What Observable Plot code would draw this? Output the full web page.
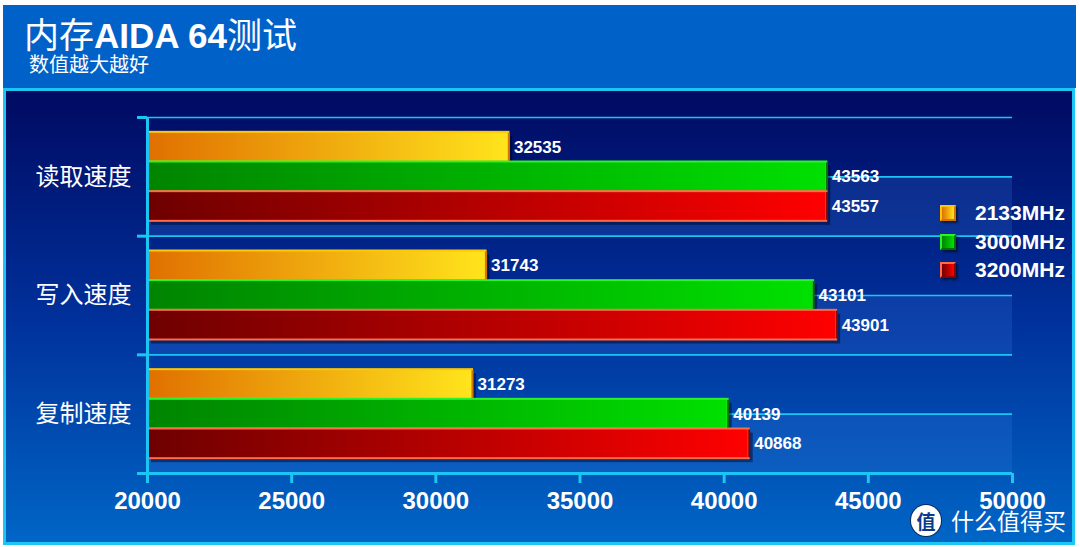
<!DOCTYPE html>
<html>
<head>
<meta charset="utf-8">
<script src="https://cdn.jsdelivr.net/npm/d3@7"></script>
<script src="https://cdn.jsdelivr.net/npm/@observablehq/plot@0.6"></script>
<style>
  html, body { margin: 0; padding: 0; background: #fff; }
  #wrap { position: relative; width: 1080px; height: 547px; background: #fff; overflow: hidden; }
  #banner { position: absolute; left: 3px; top: 5px; width: 1073px; height: 83px; background: #0062c8; }
  #title { position: absolute; left: 24px; top: 18px; color: #fff; font-size: 35px; line-height: 30px; white-space: nowrap; font-family: "Noto Sans CJK SC", sans-serif; }
  #title b { font-family: "Liberation Sans", Arial, sans-serif; font-weight: bold; }
  #subtitle { position: absolute; left: 29px; top: 54px; color: #fff; font-size: 20px; line-height: 20px; font-family: "Noto Sans CJK SC", sans-serif; }
  #panel { position: absolute; left: 3px; top: 88px; width: 1066px; height: 451px; border: 3px solid #1cc6f4; background: linear-gradient(to bottom, #000a62, #00309a 50%, #0066c6); }
  #chart { position: absolute; left: 0; top: 88px; }
  #chart svg text { fill: #fff; }
  #chart svg [aria-label^="x-axis"] line, #chart svg [aria-label^="x-axis"] path,
  #chart svg [aria-label^="y-axis"] line, #chart svg [aria-label^="y-axis"] path { stroke: #1cc6f4; stroke-width: 3px; }
  .leg { position: absolute; left: 940px; height: 24px; display: flex; align-items: center; color: #fff; font: bold 21px "Liberation Sans", Arial, sans-serif; }
  .sw { width: 12px; height: 12px; border: 2px solid; margin-right: 19px; box-shadow: 2px 2px 2px rgba(0,0,0,0.5); }
  #wm { position: absolute; left: 911px; top: 503px; height: 34px; display: flex; align-items: center; color: #fff; font-size: 23px; font-family: "Noto Sans CJK SC", sans-serif; }
  #wm .c { width: 30px; height: 31px; border-radius: 50%; background: #fff; color: #0a3a8a; font-size: 19px; display: flex; align-items: center; justify-content: center; margin-right: 10px; font-weight: bold; box-shadow: 0 0 0 1px #0a2a60; }
</style>
</head>
<body>
<div id="wrap">
  <div id="banner"></div>
  <div id="title">内存<b>AIDA 64</b>测试</div>
  <div id="subtitle">数值越大越好</div>
  <div id="panel"></div>
  <div id="chart"></div>
  <div id="legend"></div>
  <div id="wm"><span class="c">值</span>什么值得买</div>
</div>
<script>
// ---- data ----
const categories = ["读取速度", "写入速度", "复制速度"];
const series = ["2133MHz", "3000MHz", "3200MHz"];
const v2133 = [32535, 31743, 31273];
const v3000 = [43563, 43101, 40139];
const v3200 = [43557, 43901, 40868];
const xTicks = [20000, 25000, 30000, 35000, 40000, 45000, 50000];

// ---- styles ----
const gradStops = [["#e07000", "#ffe41c"], ["#008400", "#00e000"], ["#6e0000", "#ff0000"]];
const lightEdge = ["#ffc800", "#2cf22c", "#ff6a48"];
const darkEdge = ["#d47400", "#007000", "#880000"];
const cyan = "#1cc6f4";

const valuesBySeries = [v2133, v3000, v3200];
const rows = categories.flatMap((c, ci) =>
  series.map((s, si) => ({cat: c, ci, series: s, si, value: valuesBySeries[si][ci]})));

// layout within a category band (like band-scale padding)
const groupPad = 0.125, barStep = 0.25;
const y1 = d => d.ci + groupPad + d.si * barStep;
const y2 = d => y1(d) + barStep;
const yMid = d => y1(d) + barStep / 2;

const stripes = categories.map((c, i) => ({y1: i + 0.5, y2: i + 1}));
const grid = categories.flatMap((c, i) => [i, i + 0.5]);
const bounds = d3.range(categories.length + 1);
const xMin = xTicks[0], xMax = xTicks[xTicks.length - 1];

const svg = Plot.plot({
  width: 1080,
  height: 459,
  marginLeft: 147,
  marginRight: 68,
  marginTop: 29,
  marginBottom: 74,
  style: {background: "transparent", color: cyan, overflow: "visible"},
  x: {domain: [xMin, xMax], ticks: xTicks, tickFormat: d3.format("d"), tickSize: 10, tickPadding: 8, label: null},
  y: {domain: [0, categories.length], reverse: true, ticks: bounds, tickFormat: () => "", tickSize: 10, label: null},
  color: {type: "identity"},
  marks: [
    Plot.rect(stripes, {x1: xMin, x2: xMax, y1: "y1", y2: "y2", fill: "#3a80e8", fillOpacity: 0.2}),
    Plot.ruleY(grid, {x1: xMin, x2: xMax, stroke: cyan, strokeWidth: 1.6}),
    Plot.rect(rows, {x1: xMin, x2: "value", y1, y2, fill: "#000018", fillOpacity: 0.45, dx: 4, dy: 4}),
    Plot.rect(rows, {x1: xMin, x2: "value", y1, y2, fill: d => `url(#barg${d.si})`, stroke: d => lightEdge[d.si], strokeWidth: 2}),
    Plot.ruleX(rows, {x: "value", y1: d => y1(d) + 0.008, y2: d => y2(d) - 0.008, stroke: d => darkEdge[d.si], strokeWidth: 2}),
    Plot.text(rows, {x: "value", y: yMid, text: d => String(d.value), dx: 5, textAnchor: "start", fill: "#fff", fontSize: 17, fontWeight: "bold", fontFamily: "Liberation Sans, Arial, sans-serif"}),
    Plot.ruleX([xMin], {y1: 0, y2: categories.length, stroke: cyan, strokeWidth: 3}),
    Plot.ruleY([categories.length], {x1: xMin, x2: xMax, stroke: cyan, strokeWidth: 3}),
    Plot.text(categories, {x: xMin, y: (d, i) => i + 0.5, text: d => d, dx: -16, textAnchor: "end", fill: "#fff", fontSize: 24, fontFamily: "Noto Sans CJK SC, sans-serif"})
  ]
});

const defs = d3.select(svg).insert("defs", ":first-child");
gradStops.forEach((g, i) => {
  const lg = defs.append("linearGradient").attr("id", `barg${i}`).attr("x1", 0).attr("x2", 1).attr("y1", 0).attr("y2", 0);
  lg.append("stop").attr("offset", 0).attr("stop-color", g[0]);
  lg.append("stop").attr("offset", 1).attr("stop-color", g[1]);
});
// bold tick labels
d3.select(svg).selectAll('[aria-label^="x-axis"] text')
  .style("font-family", '"Liberation Sans", Arial, sans-serif')
  .style("font-weight", "bold")
  .style("font-size", "24px");
document.getElementById("chart").appendChild(svg);

// legend
const legTops = [201, 230, 258];
const legend = d3.select("#legend");
series.forEach((s, i) => {
  const item = legend.append("div").attr("class", "leg").style("top", legTops[i] + "px");
  item.append("div").attr("class", "sw")
    .style("background", `linear-gradient(to right, ${gradStops[i][0]}, ${gradStops[i][1]})`)
    .style("border-color", `${lightEdge[i]} ${darkEdge[i]} ${darkEdge[i]} ${lightEdge[i]}`);
  item.append("span").text(s);
});
</script>
</body>
</html>
